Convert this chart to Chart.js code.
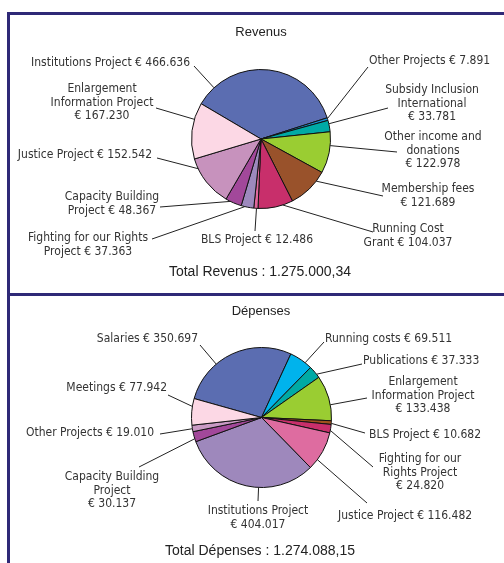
<!DOCTYPE html>
<html>
<head>
<meta charset="utf-8">
<script src="https://cdn.jsdelivr.net/npm/chart.js@4/dist/chart.umd.min.js"></script>
<style>
  html, body { margin: 0; padding: 0; background: #fff; overflow: hidden; }
  body { width: 504px; height: 563px; position: relative; }
  .frame { position: absolute; left: 7px; top: 12px; width: 600px; height: 600px;
           border-left: 3px solid #2f2977; border-top: 3px solid #2f2977; }
  .divider { position: absolute; left: 7px; top: 293px; width: 600px; height: 3px; background: #2f2977; }
  canvas { position: absolute; left: 0; top: 0; }
</style>
</head>
<body>
<div class="frame"></div>
<div class="divider"></div>
<canvas id="revChart" width="504" height="563"></canvas>
<canvas id="depChart" width="504" height="563"></canvas>
<script>
// Revenus
const revCategories = ['Institutions Project', 'Other Projects', 'Subsidy Inclusion International',
  'Other income and donations', 'Membership fees', 'Running Cost Grant', 'BLS Project',
  'Fighting for our Rights Project', 'Capacity Building Project', 'Justice Project',
  'Enlargement Information Project'];
const revValues = [466636, 7891, 33781, 122978, 121689, 104037, 12486, 37363, 48367, 152542, 167230];
const revTotal = 1275000.34;

// Dépenses
const depCategories = ['Salaries', 'Running costs', 'Publications', 'Enlargement Information Project',
  'BLS Project', 'Fighting for our Rights Project', 'Justice Project', 'Institutions Project',
  'Capacity Building Project', 'Other Projects', 'Meetings'];
const depValues = [350697, 69511, 37333, 133438, 10682, 24820, 116482, 404017, 30137, 19010, 77942];
const depTotal = 1274088.15;

const revColors = ['#5b6db1', '#1a8fd0', '#00aaa5', '#9acd32', '#99522b', '#c82f6b',
  '#e0679c', '#9d89bd', '#a2489a', '#c792bd', '#fcd8e5'];
const depColors = ['#5b6db1', '#00b3ec', '#00aaa5', '#9acd32', '#a0521e', '#c82f6b',
  '#de6ca0', '#9e88bc', '#a2489a', '#c99ac4', '#fcd8e5'];

// position des étiquettes (x, y de la 1re ligne, alignement, mots par ligne, départ du trait)
const revLabelLayout = [
  {x: 190, y: 63,  align: 'right',  wrap: null,    lx: 194, ly: 66},
  {x: 369, y: 61,  align: 'left',   wrap: null,    lx: 368, ly: 67},
  {x: 432, y: 90,  align: 'center', wrap: [2,1,2], lx: 388, ly: 108},
  {x: 433, y: 137, align: 'center', wrap: [3,1,2], lx: 397, ly: 152},
  {x: 428, y: 189, align: 'center', wrap: [2,2],   lx: 383, ly: 196},
  {x: 408, y: 229, align: 'center', wrap: [2,3],   lx: 373, ly: 232},
  {x: 257, y: 240, align: 'center', wrap: null,    lx: 255, ly: 231},
  {x: 88,  y: 238, align: 'center', wrap: [4,3],   lx: 152, ly: 239},
  {x: 112, y: 197, align: 'center', wrap: [2,3],   lx: 160, ly: 207},
  {x: 152, y: 155, align: 'right',  wrap: null,    lx: 157, ly: 158},
  {x: 102, y: 89,  align: 'center', wrap: [1,2,2], lx: 156, ly: 108},
];
const depLabelLayout = [
  {x: 198, y: 339, align: 'right',  wrap: null,    lx: 200, ly: 345},
  {x: 325, y: 339, align: 'left',   wrap: null,    lx: 324, ly: 342},
  {x: 363, y: 361, align: 'left',   wrap: null,    lx: 362, ly: 364},
  {x: 423, y: 382, align: 'center', wrap: [1,2,2], lx: 367, ly: 398},
  {x: 369, y: 435, align: 'left',   wrap: null,    lx: 365, ly: 433},
  {x: 420, y: 459, align: 'center', wrap: [3,2,2], lx: 373, ly: 467},
  {x: 338, y: 516, align: 'left',   wrap: null,    lx: 367, ly: 503},
  {x: 258, y: 511, align: 'center', wrap: [2,2],   lx: 258, ly: 501},
  {x: 112, y: 477, align: 'center', wrap: [2,1,2], lx: 139, ly: 467},
  {x: 154, y: 433, align: 'right',  wrap: null,    lx: 160, ly: 434},
  {x: 167, y: 388, align: 'right',  wrap: null,    lx: 168, ly: 395},
];

const labelFont = "12px 'Liberation Sans Narrow', 'DejaVu Sans Condensed', sans-serif";
const titleFont = "13px 'Liberation Sans', Arial, sans-serif";
const totalFont = "14px 'Liberation Sans', Arial, sans-serif";

function thousands(n) {
  return String(n).replace(/\B(?=(\d{3})+(?!\d))/g, '.');
}
function formatTotal(n) {
  const parts = n.toFixed(2).split('.');
  return thousands(parts[0]) + ',' + parts[1];
}

// trait vers le bord de la part, au plus près de l'étiquette
function edgePoint(arc, lx, ly) {
  const s = arc.startAngle, e = arc.endAngle;
  let a = Math.atan2(ly - arc.y, lx - arc.x);
  while (a < s) a += Math.PI * 2;
  while (a >= s + Math.PI * 2) a -= Math.PI * 2;
  const m = Math.min((e - s) * 0.3, 0.15);
  if (a > e) a = (a - e < s + Math.PI * 2 - a) ? e : s;
  a = Math.max(s + m, Math.min(e - m, a));
  const r = arc.outerRadius;
  return [arc.x + Math.cos(a) * r, arc.y + Math.sin(a) * r];
}

const pieLabels = {
  id: 'pieLabels',
  afterDraw(chart, args, opts) {
    const ctx = chart.ctx;
    const meta = chart.getDatasetMeta(0);
    const values = chart.data.datasets[0].data;
    ctx.save();
    ctx.fillStyle = '#222';
    ctx.textAlign = 'center';
    ctx.textBaseline = 'middle';
    ctx.font = titleFont;
    ctx.fillText(opts.title, 261, opts.titleY);
    ctx.font = totalFont;
    ctx.fillText(opts.totalText, 260, opts.totalY);

    ctx.font = labelFont;
    ctx.fillStyle = '#333';
    ctx.strokeStyle = '#222';
    ctx.lineWidth = 1;
    chart.data.labels.forEach((name, i) => {
      const lay = opts.layout[i];
      const words = (name + ' € ' + thousands(values[i])).split(' ');
      const lines = [];
      if (lay.wrap) {
        let k = 0;
        lay.wrap.forEach(n => { lines.push(words.slice(k, k + n).join(' ')); k += n; });
      } else {
        lines.push(words.join(' '));
      }
      ctx.textAlign = lay.align;
      lines.forEach((t, j) => ctx.fillText(t, lay.x, lay.y + j * 13.5));
      const p = edgePoint(meta.data[i], lay.lx, lay.ly);
      ctx.beginPath();
      ctx.moveTo(lay.lx, lay.ly);
      ctx.lineTo(p[0], p[1]);
      ctx.stroke();
    });
    ctx.restore();
  }
};

function makePie(id, labels, values, colors, rotation, padding, labelOpts) {
  return new Chart(document.getElementById(id), {
    type: 'pie',
    data: {
      labels: labels,
      datasets: [{
        data: values,
        backgroundColor: colors,
        borderColor: '#111',
        borderWidth: 1,
      }],
    },
    options: {
      responsive: false,
      animation: false,
      rotation: rotation,
      layout: { padding: padding },
      plugins: {
        legend: { display: false },
        tooltip: { enabled: false },
        pieLabels: labelOpts,
      },
    },
    plugins: [pieLabels],
  });
}

makePie('revChart', revCategories, revValues, revColors, -59.5,
  {left: 191, right: 173, top: 69, bottom: 354},
  {title: 'Revenus', titleY: 32, totalText: 'Total Revenus : ' + formatTotal(revTotal), totalY: 272,
   layout: revLabelLayout});

makePie('depChart', depCategories, depValues, depColors, -74.3,
  {left: 191, right: 172, top: 347, bottom: 75},
  {title: 'Dépenses', titleY: 311, totalText: 'Total Dépenses : ' + formatTotal(depTotal), totalY: 551,
   layout: depLabelLayout});
</script>
</body>
</html>
